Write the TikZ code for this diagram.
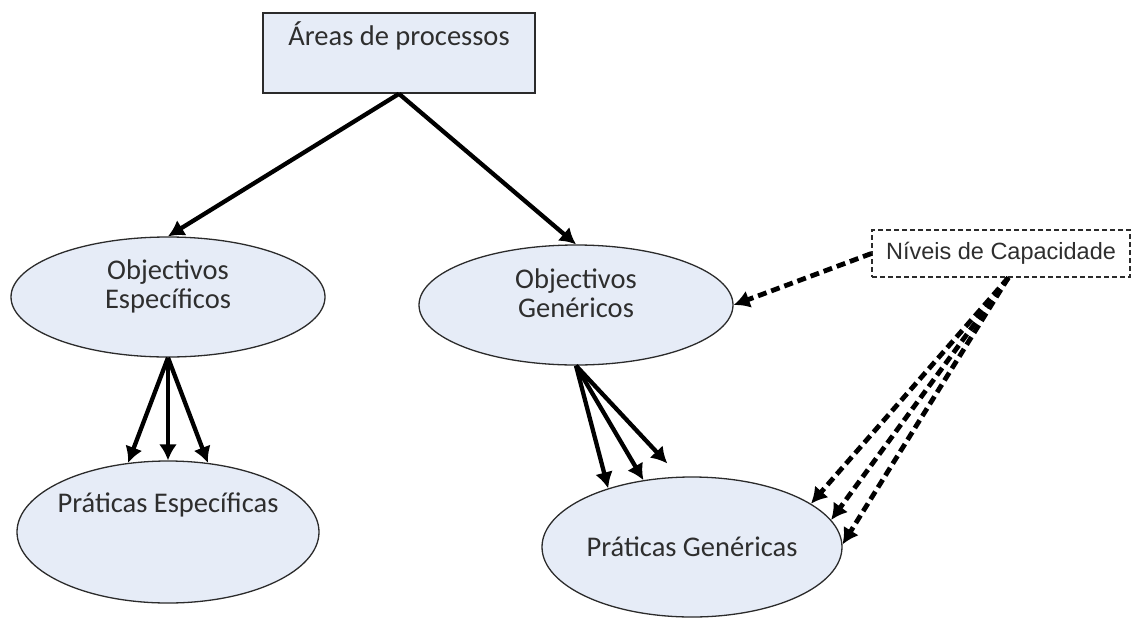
\documentclass[tikz,border=0pt]{standalone}
\usepackage{fontspec}
\setmainfont{Carlito}
\newfontfamily\arialfont{Liberation Sans}
\usetikzlibrary{arrows.meta,shapes.geometric}
\definecolor{nenxanh}{HTML}{E6ECF7}
\definecolor{vien}{HTML}{2B2B2B}
\definecolor{chu}{HTML}{2E2E2E}
\tikzset{
  khung/.style={draw=vien, line width=1.6pt, fill=nenxanh, inner sep=0pt, text=chu,
    font=\fontsize{28.5}{29}\selectfont},
  oval/.style={khung, ellipse, line width=1.3pt, align=center},
  hopnet/.style={draw=vien, line width=1.2pt, dash pattern=on 5pt off 3pt, fill=white,
    inner sep=0pt, text=chu, font=\arialfont\fontsize{23.5}{28}\selectfont},
  muiten/.style={line width=4.3pt, -{Latex[length=16pt,width=18pt]}},
  muitennet/.style={muiten, line width=4.8pt, dash pattern=on 9pt off 5pt},
}
\begin{document}
\begin{tikzpicture}[x=1pt,y=-1pt]
\useasboundingbox (0,0) rectangle (1141,619);

% ===== Các nút =====
\node[khung, minimum width=272pt, minimum height=80pt, text height=20pt, text depth=36pt] (areas) at (399,53) {Áreas de processos};
\node[oval, minimum width=314pt, minimum height=120pt, text height=23pt, text depth=0pt] (oe) at (168,297) {Objectivos\\Específicos};
\node[oval, minimum width=314pt, minimum height=120pt, text height=24pt, text depth=0pt] (og) at (576,305) {Objectivos\\Genéricos};
\node[oval, minimum width=302pt, minimum height=142pt, inner xsep=-10pt, text height=20pt, text depth=60pt] (pe) at (168,532) {Práticas Específicas};
\node[oval, minimum width=300pt, minimum height=140pt] (pg) at (692,547) {Práticas Genéricas};
\node[hopnet, minimum width=258pt, minimum height=47pt] (nivel) at (1001,253.5) {Níveis de Capacidade};

% ===== Mũi tên liền =====
\draw[muiten] (areas.south) -- (oe.north);
\draw[muiten] (areas.south) -- (og.north);
\foreach \g in {120,90,60} {
    \draw[muiten] (oe.south) -- (pe.\g);
}
\foreach \g in {145,126} {
    \draw[muiten] (og.south) -- (pg.\g);
}
\draw[muiten, shorten >=18pt] (og.south) -- (pg.100);

% ===== Mũi tên nét đứt =====
\draw[muitennet] (nivel.west) -- (og.east);
\foreach \g in {20,11,1} {
    \draw[muitennet] (nivel.-73) -- (pg.\g);
}

\end{tikzpicture}
\end{document}
